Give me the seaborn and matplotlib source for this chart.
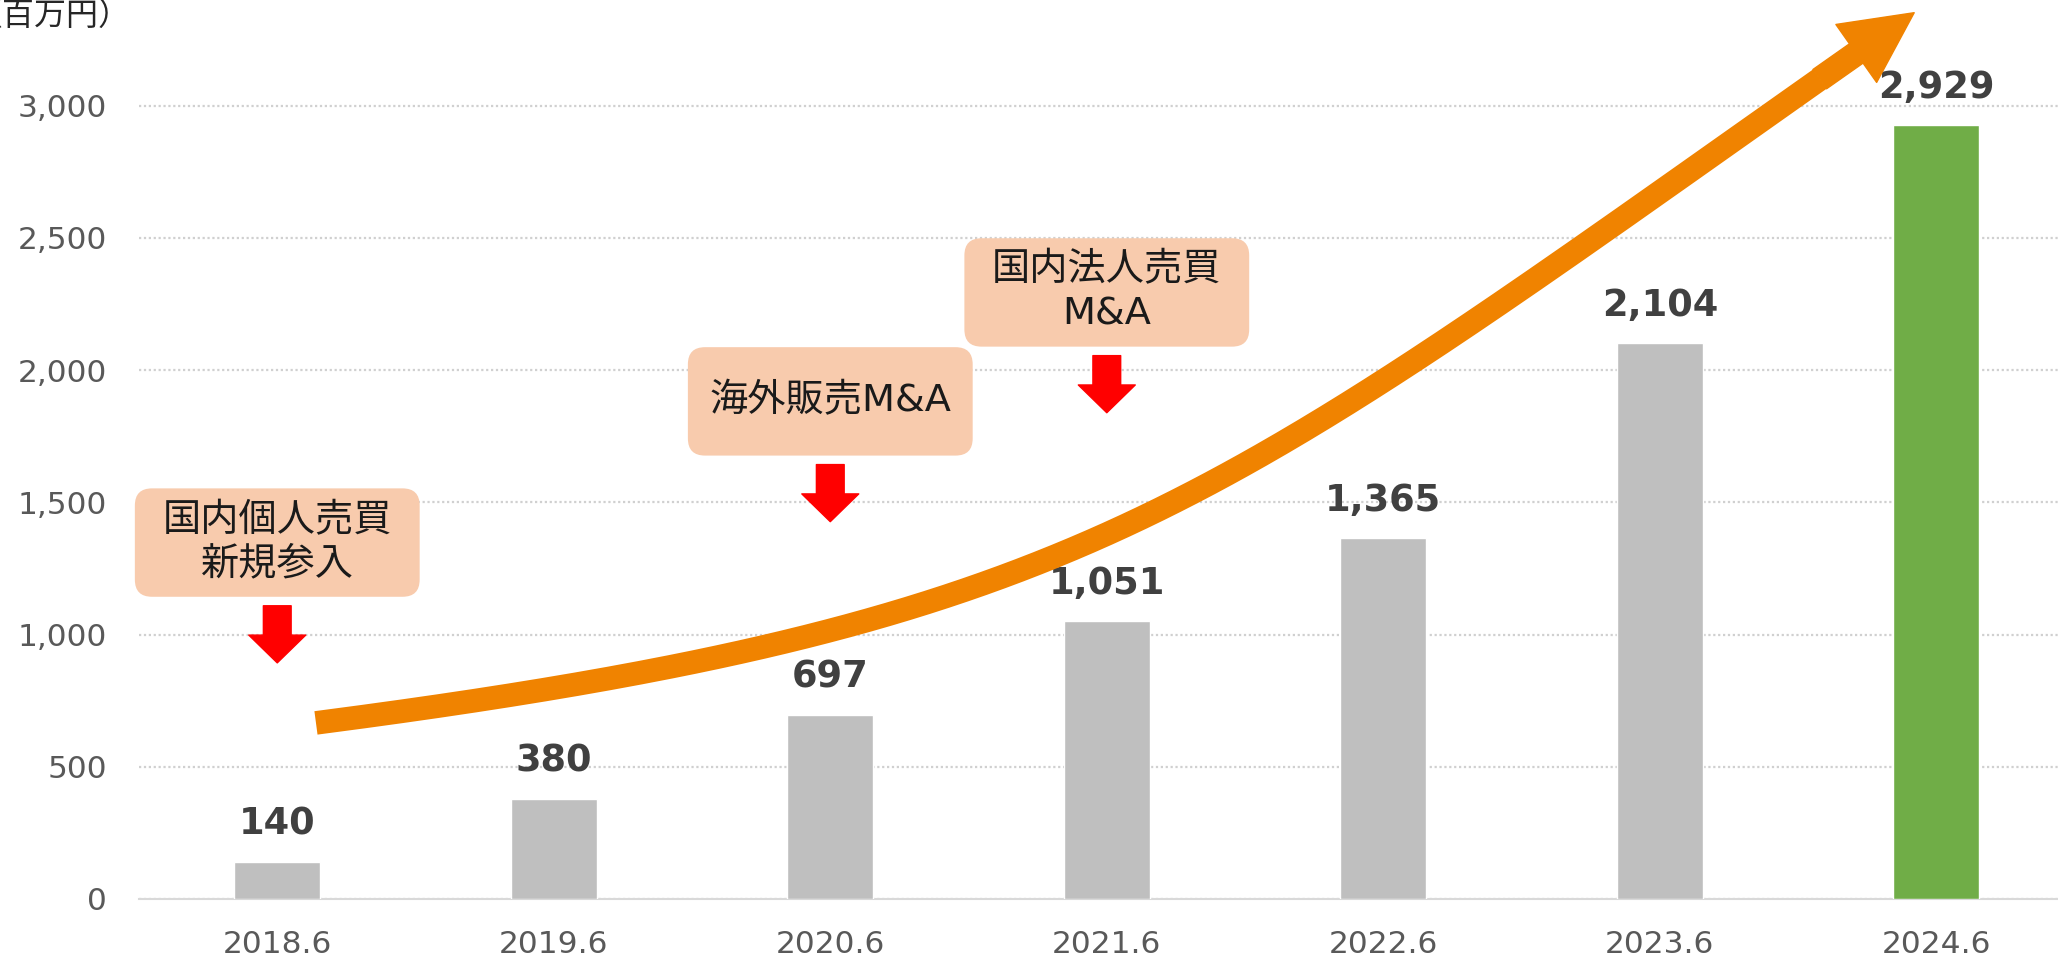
#bar chart of sales by fiscal year, with milestone call-outs and a trend arrow

#import packages
import numpy as np
import pandas as pd
from matplotlib import pyplot as plt
from matplotlib.patches import FancyBboxPatch, FancyArrowPatch
from matplotlib.ticker import FuncFormatter
import seaborn as sns

#data
years = ['2018.6', '2019.6', '2020.6', '2021.6', '2022.6', '2023.6', '2024.6']
sales = [140, 380, 697, 1051, 1365, 2104, 2929]
bar_colors = ['#BFBFBF'] * 6 + ['#70AD47']

#milestone call-outs (text, category index, box centre on value axis)
notes = ['国内個人売買\n新規参入', '海外販売M&A', '国内法人売買\nM&A']
note_x = [0, 2, 3]
note_y = [1348, 1882, 2294]

#control points of the orange growth arrow (category index, value)
trend_x = [0.14, 3.03, 3.39, 5.92]
trend_y = [666, 1059, 1498, 3352]

df = pd.DataFrame({'year': years, 'sales': sales})

sns.set_style('white')
plt.rcParams['font.family'] = ['DejaVu Sans', 'Noto Sans CJK JP']

fig = plt.figure(figsize=(20.58, 9.61), dpi=100)
ax = fig.add_axes([139 / 2058, 62 / 961, 1 - 139 / 2058, 899 / 961])

sns.barplot(data=df, x='year', y='sales', hue='year', palette=bar_colors,
            width=0.31, saturation=1, legend=False, ax=ax, zorder=3)

ax.set_xlim(-0.5, 6.44)
ax.set_ylim(0, 3400)
ax.set_yticks(range(0, 3001, 500))
ax.yaxis.set_major_formatter(FuncFormatter(lambda v, p: f'{int(v):,}'))
ax.set(xlabel='', ylabel='')

#dotted horizontal grid
ax.grid(axis='y', linestyle=(0, (1, 1.2)), color='#D0D0D0', linewidth=1.6)
ax.set_axisbelow(True)
for s in ['top', 'right', 'left']:
    ax.spines[s].set_visible(False)
ax.spines['bottom'].set_color('#D9D9D9')
ax.spines['bottom'].set_linewidth(1.5)
ax.tick_params(axis='both', length=0, labelsize=22.5, colors='#595959')
ax.tick_params(axis='y', pad=23)
ax.tick_params(axis='x', pad=22)

#value labels above the bars
for i, v in enumerate(sales):
    ax.annotate(f'{v:,}', xy=(i, v), xytext=(0, 27), textcoords='offset points',
                ha='center', va='center', fontsize=26.5, fontweight='bold',
                color='#404040', zorder=5)

#call-out boxes with red down arrows
for txt, x, y in zip(notes, note_x, note_y):
    box = FancyBboxPatch((x - 0.515, y - 205), 1.03, 410,
                         boxstyle='round,pad=0,rounding_size=0.062',
                         mutation_aspect=1046, facecolor='#F8CBAD',
                         edgecolor='none', clip_on=False, zorder=4)
    ax.add_patch(box)
    ax.text(x, y, txt, ha='center', va='center', fontsize=27.5,
            color='#1A1A1A', linespacing=1.27, zorder=5,
            family=['DejaVu Sans', 'Noto Sans CJK JP'])
    ax.annotate('', xy=(x, y - 205 - 250), xytext=(x, y - 205 - 34),
                arrowprops=dict(arrowstyle='simple,head_length=20,head_width=41,tail_width=20',
                                color='#FF0000', mutation_scale=1,
                                shrinkA=0, shrinkB=0), zorder=4)

#orange growth arrow: cubic bezier shaft + straight head
orange = '#F08300'
t = np.linspace(0, 1, 300)[:, None]
p = np.column_stack([trend_x, trend_y])
curve = ((1 - t) ** 3) * p[0] + 3 * t * (1 - t) ** 2 * p[1] + 3 * t ** 2 * (1 - t) * p[2] + t ** 3 * p[3]
shaft = curve[t[:, 0] <= 0.956]
ax.plot(shaft[:, 0], shaft[:, 1], color=orange, linewidth=17, solid_capstyle='butt',
        clip_on=False, zorder=6)
k = np.searchsorted(t[:, 0], 0.95)
head = FancyArrowPatch(tuple(curve[k]), tuple(curve[-1]),
                       arrowstyle='simple,head_length=51,head_width=51,tail_width=17',
                       mutation_scale=1, color=orange, shrinkA=0, shrinkB=0,
                       clip_on=False, zorder=6)
ax.add_patch(head)

#unit label (cut off at the left edge like the original)
fig.text(-29 / 2058, 1 - 16 / 961, '（百万円）', ha='left', va='center',
         fontsize=23, color='#262626', family=['Noto Sans CJK JP', 'DejaVu Sans'])

fig.savefig('out.png', dpi=100)
